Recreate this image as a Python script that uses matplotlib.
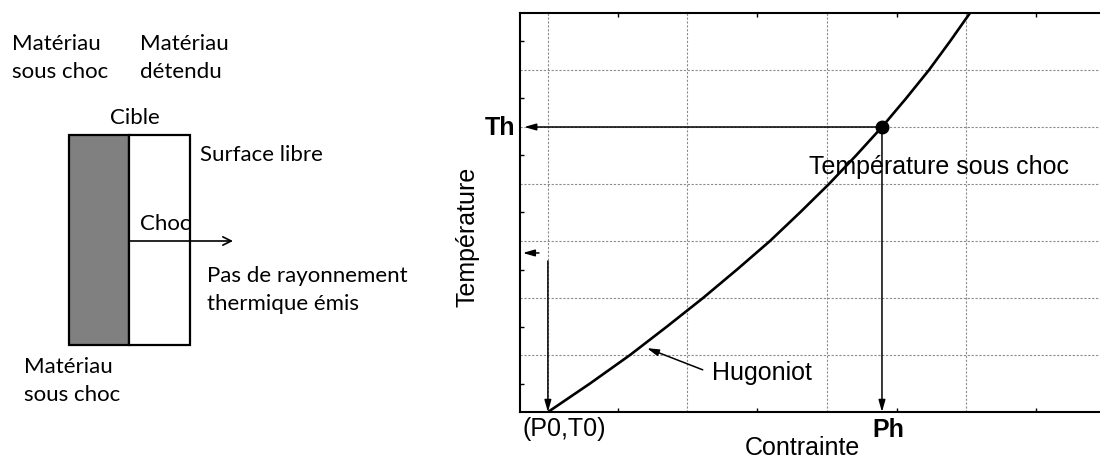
import matplotlib
matplotlib.use("Agg")
import matplotlib.pyplot as plt
from matplotlib.patches import Rectangle

# ---------------- data ----------------
# Hugoniot curve (Contrainte, Température) in arbitrary units
hug_p = [0.201, 0.502, 0.789, 1.054, 1.312, 1.556, 1.792, 2.007, 2.215,
         2.409, 2.595, 2.767, 2.932, 3.082, 3.226]
hug_t = [0.0, 0.5, 1.0, 1.5, 2.0, 2.5, 3.0, 3.5, 4.0,
         4.5, 5.0, 5.5, 6.0, 6.5, 7.0]
p0, t0 = 0.20, 0.00
ph, th = 2.595, 5.00
x_ticks = [0.7, 1.7, 2.7, 3.7]
y_ticks = [0.5, 1.5, 2.5, 3.5, 4.5, 5.5, 6.5]
x_grid = [0.2, 1.2, 2.2, 3.2]
y_grid = [1, 2, 3, 4, 5, 6]
xlim = (0, 4.158)
ylim = (0, 7)

# left schematic (figure pixel coordinates)
shocked_rect = (69, 135, 60, 210)    # x, y(top), w, h
relaxed_rect = (129, 135, 61, 210)
shock_arrow = ((129, 241), (233, 241))
left_texts = [
    ("Matériau\nsous choc", 12, 58),
    ("Matériau\ndétendu", 140, 58),
    ("Cible", 110, 118),
    ("Surface libre", 200, 155),
    ("Choc", 140, 224),
    ("Pas de rayonnement\nthermique émis", 207, 290),
    ("Matériau\nsous choc", 24, 381),
]

W, H = 1100, 459
fig = plt.figure(figsize=(W / 100, H / 100), dpi=100)

# ---------------- left schematic ----------------
axl = fig.add_axes([0, 0, 1, 1], zorder=0)
axl.set_xlim(0, W)
axl.set_ylim(H, 0)
axl.axis("off")
axl.add_patch(Rectangle((shocked_rect[0], shocked_rect[1]), shocked_rect[2], shocked_rect[3],
                        facecolor="#808080", edgecolor="black", lw=1.6))
axl.add_patch(Rectangle((relaxed_rect[0], relaxed_rect[1]), relaxed_rect[2], relaxed_rect[3],
                        facecolor="white", edgecolor="black", lw=1.6))
axl.annotate("", xy=shock_arrow[1], xytext=shock_arrow[0],
             arrowprops=dict(arrowstyle="->,head_length=0.6,head_width=0.3", lw=1.2,
                             color="black", shrinkA=0, shrinkB=0))
lfont = dict(family=["Lato", "DejaVu Sans"], fontsize=16, color="black")
for txt, x, y in left_texts:
    axl.text(x, y, txt, ha="left", va="center", linespacing=1.45, **lfont)

# ---------------- right chart ----------------
ax = fig.add_axes([520 / W, 47 / H, 580 / W, 399 / H], zorder=1)
ax.patch.set_alpha(0)
ax.set_xlim(*xlim)
ax.set_ylim(*ylim)
for s in ["left", "top", "bottom"]:
    ax.spines[s].set_linewidth(1.5)
ax.spines["right"].set_visible(False)

for gx in x_grid:
    ax.axvline(gx, color="#8c8c8c", lw=0.8, ls=(0, (2, 1.5)), zorder=0)
for gy in y_grid:
    ax.axhline(gy, color="#8c8c8c", lw=0.8, ls=(0, (2, 1.5)), zorder=0)

ax.set_xticks(x_ticks)
ax.set_yticks(y_ticks)
ax.set_xticklabels([])
ax.set_yticklabels([])
ax.tick_params(axis="x", direction="in", length=3, width=1, top=True, bottom=True)
ax.tick_params(axis="y", direction="in", length=3, width=1, left=True, right=False)

ax.plot(hug_p, hug_t, color="black", lw=1.9, solid_joinstyle="round", zorder=3)
ax.plot([ph], [th], "o", color="black", ms=9, zorder=4)

head = "-|>,head_length=0.7,head_width=0.2"
ap = dict(arrowstyle=head, lw=1.1, color="black", shrinkA=0, shrinkB=0)
ax.annotate("", xy=(0.03, th), xytext=(ph, th), arrowprops=ap)
ax.annotate("", xy=(ph, 0.0), xytext=(ph, th), arrowprops=ap)
ax.annotate("", xy=(p0, t0), xytext=(p0, 2.65), arrowprops=ap)
ax.annotate("", xy=(0.02, 2.79), xytext=(0.136, 2.79), arrowprops=ap)
ax.annotate("", xy=(0.91, 1.12), xytext=(1.31, 0.74), arrowprops=ap)

rfont = dict(family=["Liberation Sans", "DejaVu Sans"], fontsize=18, color="black")
ax.text(1.38, 0.69, "Hugoniot", ha="left", va="center", **rfont)
ax.text(2.07, 4.29, "Température sous choc", ha="left", va="center", **rfont)

fig.text(515 / W, 1 - 128 / H, "Th", ha="right", va="center", fontweight="bold", **rfont)
fig.text(888 / W, 1 - 430 / H, "Ph", ha="center", va="center", fontweight="bold", **rfont)
fig.text(564 / W, 1 - 429 / H, "(P0,T0)", ha="center", va="center", **rfont)
fig.text(802 / W, 1 - 448 / H, "Contrainte", ha="center", va="center", **rfont)
fig.text(468 / W, 1 - 237 / H, "Température", ha="center", va="center", rotation=90, **rfont)

fig.savefig("out.png", dpi=100)
